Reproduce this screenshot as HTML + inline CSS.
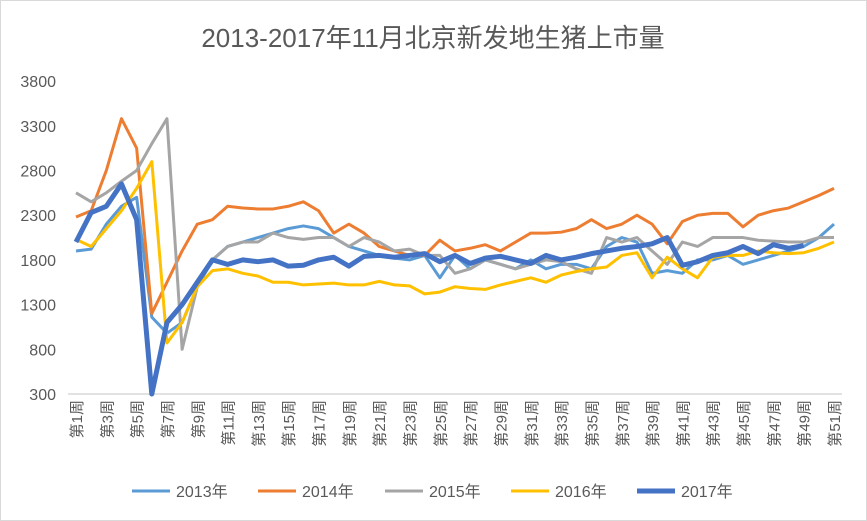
<!DOCTYPE html>
<html><head><meta charset="utf-8"><style>
body{margin:0;background:#fff;}
svg{display:block;font-family:"Liberation Sans","Noto Sans CJK SC",sans-serif;}
</style></head><body>
<svg id="chart" width="867" height="521" viewBox="0 0 867 521">
<rect x="0.5" y="0.5" width="866" height="520" fill="#fff" stroke="#d9d9d9"/>
<text x="433" y="47" text-anchor="middle" font-size="26" fill="#595959">2013-2017年11月北京新发地生猪上市量</text>
<g id="yaxis"></g>
<g id="xaxis"></g>
<g id="series"></g>
<g id="legend"></g>
</svg>
<script>
const yTicks=[300,800,1300,1800,2300,2800,3300,3800];
const seriesNames=["2013年","2014年","2015年","2016年","2017年"];
const d2013=[1900,1920,2200,2400,2500,1160,980,1100,1500,1800,1950,2000,2050,2100,2150,2180,2150,2050,1950,1900,1850,1820,1800,1850,1600,1850,1700,1800,1750,1700,1800,1700,1750,1750,1700,1950,2050,2000,1650,1680,1650,1800,1800,1850,1750,1800,1850,1900,1950,2050,2200];
const d2014=[2280,2350,2800,3380,3050,1200,1550,1900,2200,2250,2400,2380,2370,2370,2400,2450,2350,2100,2200,2100,1950,1900,1850,1850,2020,1900,1930,1970,1900,2000,2100,2100,2110,2150,2250,2150,2200,2300,2200,1980,2230,2300,2320,2320,2170,2300,2350,2380,2450,2520,2600];
const d2015=[2550,2450,2550,2680,2800,3100,3380,800,1500,1800,1950,2000,2000,2100,2050,2030,2050,2050,1950,2050,2000,1900,1920,1850,1850,1650,1700,1800,1750,1700,1750,1800,1780,1700,1650,2050,2000,2050,1900,1750,2000,1950,2050,2050,2050,2020,2010,2000,2000,2050,2050];
const d2016=[2030,1950,2150,2350,2600,2900,870,1100,1500,1680,1700,1650,1620,1550,1550,1520,1530,1540,1520,1520,1560,1520,1510,1420,1440,1500,1480,1470,1520,1560,1600,1550,1630,1670,1700,1720,1850,1880,1600,1830,1700,1600,1830,1850,1850,1900,1880,1870,1880,1930,2000];
const d2017=[2000,2330,2400,2650,2250,300,1100,1300,1550,1800,1750,1800,1780,1800,1730,1740,1800,1830,1730,1840,1850,1830,1850,1870,1780,1850,1760,1820,1840,1800,1760,1850,1800,1830,1870,1900,1930,1950,1980,2050,1740,1780,1850,1880,1950,1870,1970,1930,1960];
const colors=["#5b9bd5","#ed7d31","#a5a5a5","#ffc000","#4472c4"];
const widths=[3,3,3,3,5];
const NS="http://www.w3.org/2000/svg";
const X=w=>76+(w-1)*15.16;
const Y=v=>394-(v-300)*0.0894;
function mk(tag,attrs,parent){const e=document.createElementNS(NS,tag);for(const k in attrs)e.setAttribute(k,attrs[k]);parent.appendChild(e);return e;}
const ya=document.getElementById('yaxis'),xa=document.getElementById('xaxis'),sg=document.getElementById('series'),lg=document.getElementById('legend');
yTicks.forEach(t=>{const e=mk('text',{x:56,y:Y(t)+6,'text-anchor':'end','font-size':16,fill:'#595959'},ya);e.textContent=t;

});
const ax=mk('line',{x1:68,x2:842,y1:394,y2:394,stroke:'#d9d9d9','stroke-width':1.5},xa);


for(let w=1;w<=51;w+=2){const x=X(w);const e=mk('text',{transform:`translate(${x+6},400) rotate(-90)`,'text-anchor':'end','font-size':15,fill:'#595959'},xa);e.textContent='第'+w+'周';

}
[d2013,d2014,d2015,d2016,d2017].forEach((d,i)=>{const p=mk('polyline',{points:d.map((v,j)=>X(j+1)+','+Y(v)).join(' '),fill:'none',stroke:colors[i],'stroke-width':widths[i],'stroke-linejoin':'round'},sg);

});
const lx=[132,258,385,511,637];
seriesNames.forEach((n,i)=>{const g=mk('g',{},lg);


mk('line',{x1:lx[i],x2:lx[i]+38,y1:491,y2:491,stroke:colors[i],'stroke-width':widths[i]},g);
const t=mk('text',{x:lx[i]+44,y:497,'font-size':16,fill:'#595959'},g);t.textContent=n;});
</script>
</body></html>
